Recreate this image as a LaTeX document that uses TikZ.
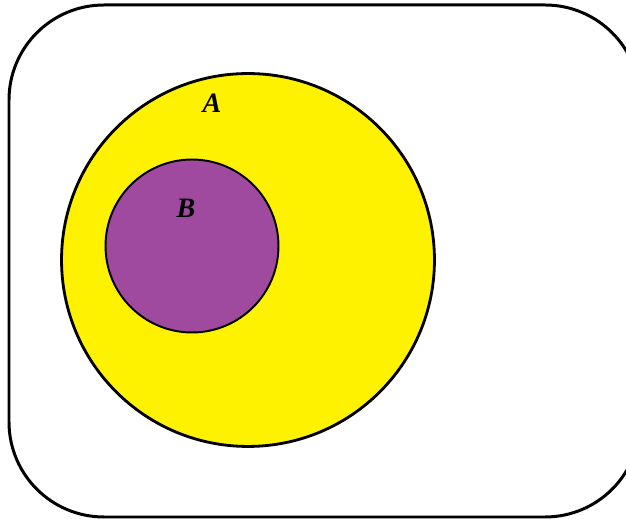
\documentclass[tikz,border=0pt]{standalone}
\usepackage{xcolor}
\definecolor{Sun}{HTML}{FFF200}
\definecolor{Plum}{HTML}{9F4A9F}
\colorlet{yellowx}{Sun}
\colorlet{plum}{Plum}
\usepackage{fontspec}
\setmainfont{Liberation Serif}
\usepackage{tikz}
\usetikzlibrary{positioning}

\begin{document}
\begin{tikzpicture}[x=0.02cm,y=-0.02cm,every node/.style={font=\bfseries\itshape\fontsize{16}{18}\selectfont}]
\useasboundingbox (0,0) rectangle (626,519);
\begin{scope}
\clip (0,0) rectangle (626,519);
\draw[line width=1.7pt,rounded corners=1.9cm] (9,5) rectangle (640,517);
\end{scope}
\node[draw=black,fill=yellowx,circle,line width=1.6pt,minimum size=7.46cm,inner sep=0pt] (setA) at (248,260) {};
\node[draw=black,fill=plum,circle,line width=1.1pt,minimum size=3.46cm,inner sep=0pt] (setB) at (192,246) {};
\node (labA) at (212,103) {A};
\node (labB) at (186,208) {B};
\end{tikzpicture}
\end{document}
